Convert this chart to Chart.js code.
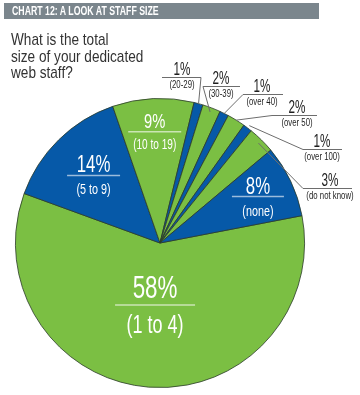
<!DOCTYPE html>
<html>
<head>
<meta charset="utf-8">
<script src="https://cdn.jsdelivr.net/npm/chart.js@4/dist/chart.umd.min.js"></script>
<style>
  html, body { margin: 0; padding: 0; background: #fff; }
  #wrap { position: relative; width: 360px; height: 395px; overflow: hidden; }
  #titleBar {
    position: absolute; left: 4px; top: 3px; width: 315px; height: 16px;
    background: #7b868d;
  }
  #titleBar span {
    position: absolute; left: 8px; top: 0;
    color: #fff; font: bold 12px 'Liberation Sans', Arial, sans-serif; line-height: 17px;
    white-space: nowrap; transform: scaleX(0.73); transform-origin: 0 0;
  }
  #question {
    position: absolute; left: 11px; top: 32px;
    font: 17px 'Liberation Sans', Arial, sans-serif;
    line-height: 16.5px; color: #333; white-space: nowrap;
    transform: scaleX(0.8); transform-origin: 0 0;
  }
  canvas { position: absolute; left: 0; top: 0; }
</style>
</head>
<body>
<div id="wrap">
  <canvas id="pie" width="360" height="395"></canvas>
  <div id="titleBar"><span>CHART 12: A LOOK AT STAFF SIZE</span></div>
  <div id="question">What is the total<br>size of your dedicated<br>web staff?</div>
</div>
<script>
// staff size categories and share of respondents (%)
const categories = ['1 to 4', '5 to 9', '10 to 19', '20-29', '30-39', 'over 40', 'over 50', 'over 100', 'do not know', 'none'];
const shares = [58, 14, 9, 1, 2, 1, 2, 1, 3, 8];

const green = '#7bbf43';
const blue = '#0659a8';
const sliceColors = shares.map((_, i) => i % 2 === 0 ? green : blue);
const FONT = "'Liberation Sans', Arial, sans-serif";

// labels drawn inside the slice: radial factor, sizes, underline width, gaps
const insideLabels = {
  0: { f: 0.43, big: 32, small: 25, w: 80, up: 7, down: 21 },
  1: { f: 0.655, big: 24, small: 15, w: 53, up: 3, down: 14 },
  2: { f: 0.77, big: 21, small: 14, w: 53, up: 4, down: 13 },
  9: { f: 0.75, big: 24, small: 15, w: 52, up: 2, down: 15 }
};
// labels placed outside with a leader line: text centre, underline y and span, leader side
const outsideLabels = {
  3: { cx: 182, y: 77, x1: 162, x2: 201, side: 'right', f: 1.0 },
  4: { cx: 221, y: 86, x1: 203, x2: 240, side: 'left', f: 0.97 },
  5: { cx: 262, y: 94, x1: 243, x2: 283, side: 'left', f: 1.0 },
  6: { cx: 297, y: 115, x1: 272, x2: 317, side: 'left', f: 1.0 },
  7: { cx: 322, y: 149, x1: 303, x2: 342, side: 'left', f: 1.02 },
  8: { cx: 330, y: 188, x1: 303, x2: 352, side: 'left', f: 0.97 }
};

// condensed text: squeeze horizontally around the centre point
function narrowText(ctx, text, x, y, sx) {
  ctx.save();
  ctx.translate(x, y);
  ctx.scale(sx, 1);
  ctx.fillText(text, 0, 0);
  ctx.restore();
}

const sliceLabels = {
  id: 'sliceLabels',
  afterDatasetsDraw(chart) {
    const ctx = chart.ctx;
    const arcs = chart.getDatasetMeta(0).data;
    ctx.save();
    ctx.textAlign = 'center';
    arcs.forEach((arc, i) => {
      const mid = (arc.startAngle + arc.endAngle) / 2;
      const r = arc.outerRadius;
      const pct = shares[i] + '%';
      const cat = '(' + categories[i] + ')';
      if (insideLabels[i]) {
        const c = insideLabels[i];
        const x = arc.x + Math.cos(mid) * r * c.f;
        const y = arc.y + Math.sin(mid) * r * c.f;
        ctx.fillStyle = '#fff';
        ctx.textBaseline = 'alphabetic';
        ctx.font = c.big + 'px ' + FONT;
        narrowText(ctx, pct, x, y - c.up, 0.7);
        ctx.textBaseline = 'middle';
        ctx.font = c.small + 'px ' + FONT;
        narrowText(ctx, cat, x, y + c.down, 0.72);
        ctx.strokeStyle = 'rgba(255,255,255,0.6)';
        ctx.lineWidth = 1.5;
        ctx.beginPath();
        ctx.moveTo(x - c.w / 2, y);
        ctx.lineTo(x + c.w / 2, y);
        ctx.stroke();
      } else if (outsideLabels[i]) {
        const c = outsideLabels[i];
        const ex = arc.x + Math.cos(mid) * r * c.f;
        const ey = arc.y + Math.sin(mid) * r * c.f;
        ctx.strokeStyle = '#6d6d6d';
        ctx.lineWidth = 1;
        ctx.beginPath();
        ctx.moveTo(c.x1, c.y + 0.5);
        ctx.lineTo(c.x2, c.y + 0.5);
        ctx.moveTo(c.side === 'right' ? c.x2 : c.x1, c.y + 0.5);
        ctx.lineTo(ex, ey);
        ctx.stroke();
        ctx.fillStyle = '#1e1e1e';
        ctx.textBaseline = 'alphabetic';
        ctx.font = '18px ' + FONT;
        narrowText(ctx, pct, c.cx, c.y - 2, 0.65);
        ctx.textBaseline = 'middle';
        ctx.font = '10px ' + FONT;
        narrowText(ctx, cat, c.cx, c.y + 8, 0.78);
      }
    });
    ctx.restore();
  }
};

new Chart(document.getElementById('pie'), {
  type: 'pie',
  data: {
    labels: categories,
    datasets: [{
      data: shares,
      backgroundColor: sliceColors,
      borderColor: '#2b3b2a',
      borderWidth: 0.8
    }]
  },
  options: {
    responsive: false,
    animation: false,
    rotation: 79.1,
    layout: { padding: { left: 15, right: 55, top: 98, bottom: 7 } },
    plugins: {
      legend: { display: false },
      tooltip: { enabled: false },
      title: { display: false }
    }
  },
  plugins: [sliceLabels]
});
</script>
</body>
</html>
